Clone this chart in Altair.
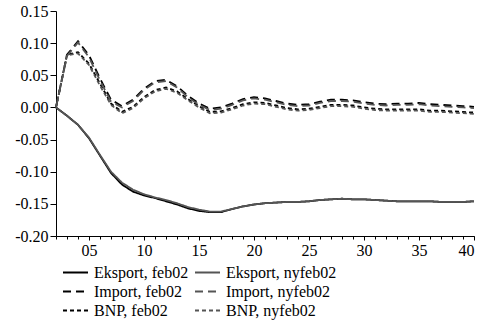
import altair as alt
import pandas as pd

t = list(range(2, 41))

eksport_feb02 = [0.000, -0.013, -0.027, -0.048, -0.075, -0.102, -0.120, -0.131, -0.137, -0.141,
                 -0.146, -0.151, -0.157, -0.161, -0.163, -0.163, -0.158, -0.154, -0.151, -0.149,
                 -0.148, -0.147, -0.147, -0.146, -0.144, -0.143, -0.142, -0.143, -0.143, -0.144,
                 -0.145, -0.146, -0.146, -0.146, -0.146, -0.147, -0.147, -0.147, -0.146]
eksport_nyfeb02 = [0.000, -0.013, -0.027, -0.047, -0.074, -0.100, -0.117, -0.128, -0.135, -0.140,
                   -0.144, -0.149, -0.155, -0.159, -0.162, -0.162, -0.158, -0.154, -0.151, -0.149,
                   -0.148, -0.147, -0.147, -0.146, -0.144, -0.143, -0.142, -0.143, -0.143, -0.144,
                   -0.145, -0.146, -0.146, -0.146, -0.146, -0.147, -0.147, -0.147, -0.146]
import_feb02 = [0.000, 0.082, 0.103, 0.081, 0.045, 0.012, 0.002, 0.012, 0.029, 0.041,
                0.043, 0.033, 0.018, 0.006, -0.002, 0.000, 0.006, 0.013, 0.016, 0.014,
                0.010, 0.006, 0.004, 0.005, 0.009, 0.012, 0.012, 0.011, 0.008, 0.006,
                0.005, 0.006, 0.006, 0.007, 0.005, 0.004, 0.003, 0.002, 0.001]
import_nyfeb02 = [0.000, 0.080, 0.101, 0.078, 0.042, 0.009, 0.000, 0.010, 0.027, 0.039,
                  0.041, 0.031, 0.016, 0.004, -0.004, -0.002, 0.004, 0.011, 0.014, 0.012,
                  0.008, 0.004, 0.002, 0.003, 0.007, 0.010, 0.010, 0.009, 0.006, 0.004,
                  0.003, 0.004, 0.004, 0.005, 0.003, 0.002, 0.001, 0.000, -0.001]
bnp_feb02 = [0.000, 0.082, 0.086, 0.068, 0.037, 0.006, -0.007, 0.001, 0.016, 0.027,
             0.031, 0.025, 0.013, 0.002, -0.007, -0.006, -0.001, 0.005, 0.008, 0.007,
             0.003, -0.001, -0.003, -0.002, 0.001, 0.004, 0.004, 0.003, 0.000, -0.002,
             -0.003, -0.003, -0.003, -0.003, -0.005, -0.005, -0.006, -0.007, -0.008]
bnp_nyfeb02 = [0.000, 0.081, 0.084, 0.066, 0.034, 0.004, -0.009, -0.001, 0.014, 0.025,
               0.029, 0.023, 0.011, 0.000, -0.009, -0.008, -0.003, 0.003, 0.006, 0.005,
               0.001, -0.003, -0.005, -0.004, -0.001, 0.002, 0.002, 0.001, -0.002, -0.004,
               -0.005, -0.005, -0.005, -0.005, -0.007, -0.007, -0.008, -0.009, -0.010]

# legend is filled column by column: feb02 series first, then nyfeb02 series
series_names = ["Eksport, feb02", "Import, feb02", "BNP, feb02",
                "Eksport, nyfeb02", "Import, nyfeb02", "BNP, nyfeb02"]
series_values = [eksport_feb02, import_feb02, bnp_feb02,
                 eksport_nyfeb02, import_nyfeb02, bnp_nyfeb02]

x_major = [5, 10, 15, 20, 25, 30, 35, 40]
x_minor = t
y_ticks = [-0.20, -0.15, -0.10, -0.05, 0.00, 0.05, 0.10, 0.15]

rows = []
for name, vals in zip(series_names, series_values):
    for ti, v in zip(t, vals):
        rows.append({"t": ti, "value": v, "series": name})
df = pd.DataFrame(rows)

colors = ["#000000", "#000000", "#000000", "#555555", "#555555", "#555555"]
dashes = [[1, 0], [8, 5], [4, 3], [1, 0], [8, 5], [4, 3]]
widths = [1.8, 1.8, 1.8, 1.0, 1.0, 1.0]

FONT = "Liberation Serif"
x_scale = alt.Scale(domain=[2, 40], nice=False, zero=False)
y_scale = alt.Scale(domain=[-0.20, 0.15], nice=False, zero=False)

legend = alt.Legend(
    title=None, orient="none", legendX=6, legendY=252, columns=2,
    symbolType="stroke", symbolSize=625, labelFont=FONT, labelFontSize=16,
    labelColor="black", labelOffset=5, columnPadding=5, rowPadding=0,
    clipHeight=19, labelLimit=300, padding=0,
)

y_axis = alt.Axis(values=y_ticks, title=None, tickSize=6, labelPadding=2, grid=False,
                  labelOverlap=False, labelFont=FONT, labelFontSize=16, labelColor="black",
                  domainColor="black", tickColor="black",
                  labelExpr="datum.value < -0.0001 ? '-' + format(-datum.value, '.2f') : format(datum.value, '.2f')")

lines = alt.Chart(df).mark_line().encode(
    x=alt.X("t:Q", scale=x_scale,
            axis=alt.Axis(values=x_major, format="02d", title=None, orient="bottom",
                          tickSize=4, labelPadding=2, grid=False, labelOverlap=False,
                          labelFont=FONT, labelFontSize=16, labelColor="black",
                          domainColor="black", tickColor="black")),
    y=alt.Y("value:Q", scale=y_scale, axis=y_axis),
    color=alt.Color("series:N", scale=alt.Scale(domain=series_names, range=colors), legend=legend),
    strokeDash=alt.StrokeDash("series:N", scale=alt.Scale(domain=series_names, range=dashes), legend=legend),
    strokeWidth=alt.StrokeWidth("series:N", scale=alt.Scale(domain=series_names, range=widths), legend=legend),
)

minor = alt.Chart(df).mark_point(opacity=0).encode(
    x=alt.X("t:Q", scale=x_scale,
            axis=alt.Axis(values=x_minor, labels=False, title=None, orient="bottom",
                          tickSize=3, domain=False, grid=False, tickColor="black")),
    y=alt.Y("value:Q", scale=y_scale, axis=y_axis),
)

chart = alt.layer(lines, minor).resolve_axis(x="independent").properties(
    width=418, height=225, background="white",
    padding={"left": 56, "top": 11, "right": 19, "bottom": 89},
    autosize=alt.AutoSizeParams(type="none"),
).configure(font=FONT).configure_view(stroke=None)

chart.save("out.html", embed_options={"renderer": "svg", "actions": False})
